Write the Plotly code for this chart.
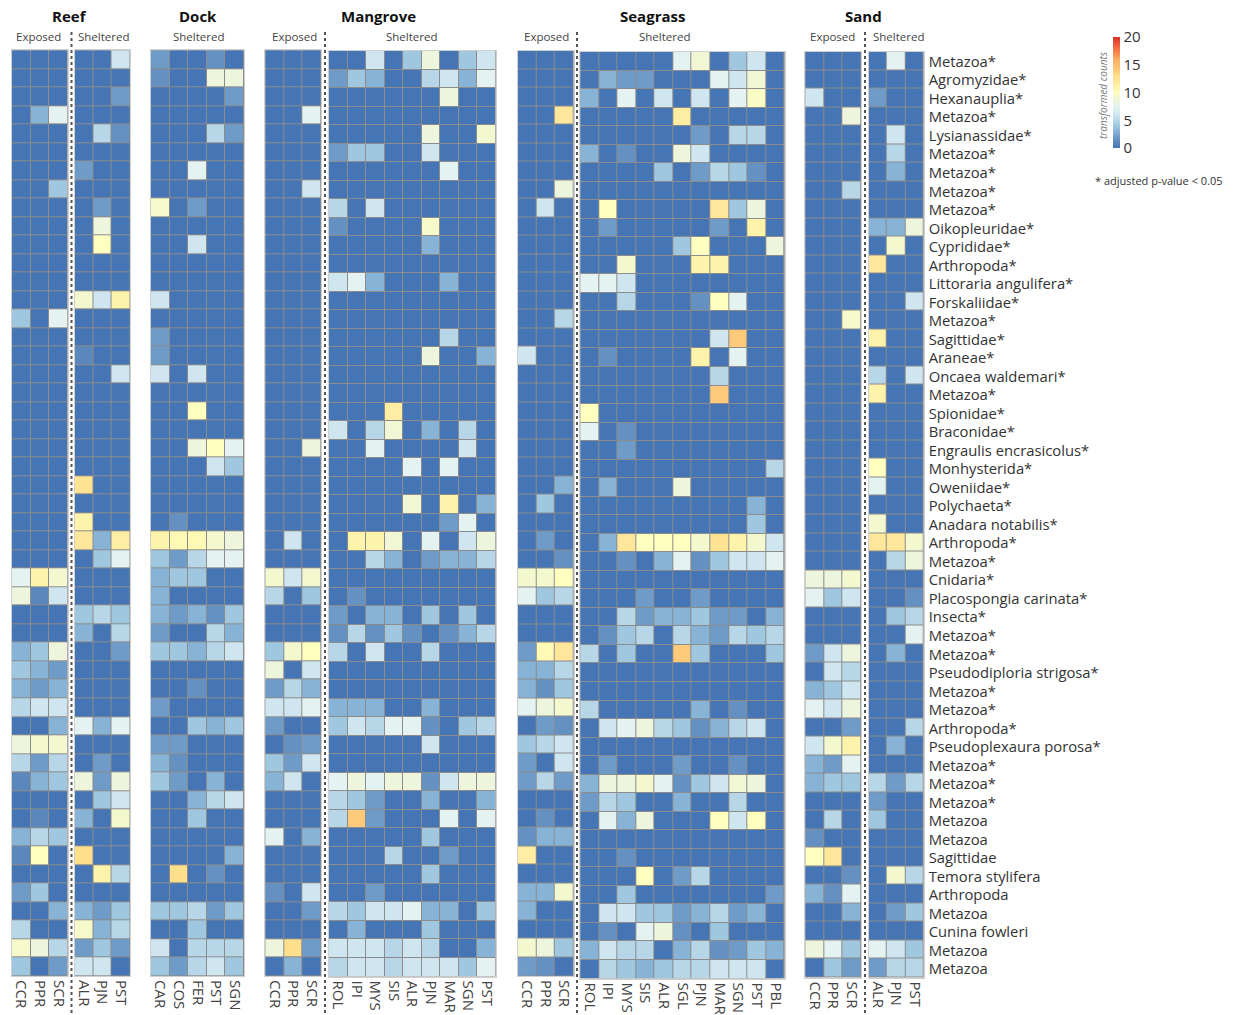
import plotly.graph_objects as go

taxa = ["Metazoa*","Agromyzidae*","Hexanauplia*","Metazoa*","Lysianassidae*","Metazoa*","Metazoa*","Metazoa*","Metazoa*","Oikopleuridae*",
"Cyprididae*","Arthropoda*","Littoraria angulifera*","Forskaliidae*","Metazoa*","Sagittidae*","Araneae*","Oncaea waldemari*","Metazoa*","Spionidae*",
"Braconidae*","Engraulis encrasicolus*","Monhysterida*","Oweniidae*","Polychaeta*","Anadara notabilis*","Arthropoda*","Metazoa*","Cnidaria*","Placospongia carinata*",
"Insecta*","Metazoa*","Metazoa*","Pseudodiploria strigosa*","Metazoa*","Metazoa*","Arthropoda*","Pseudoplexaura porosa*","Metazoa*","Metazoa*",
"Metazoa*","Metazoa","Metazoa","Sagittidae","Temora stylifera","Arthropoda","Metazoa","Cunina fowleri","Metazoa","Metazoa"]

reef_exposed_sites = ["CCR","PPR","SCR"]
reef_exposed = [
[0,0,0],[0,0,0],[0,0,0],[0,3,7.5],[0,0,0],[0,0,0],[0,0,0],[0,0,4],[0,0,0],[0,0,0],
[0,0,0],[0,0,0],[0,0,0],[0,0,0],[4,0,7.5],[0,0,0],[0,0,0],[0,0,0],[0,0,0],[0,0,0],
[0,0,0],[0,0,0],[0,0,0],[0,0,0],[0,0,0],[0,0,0],[0,0,0],[0,0,0],[7.5,11,9.3],[8.5,1,6],
[0,0,0],[0,0,0],[3,4,8.5],[4,3,2],[3,2,3],[5,6,6],[0,0,3],[8.5,9.3,9.3],[5,2,5],[1,3,4],
[0,0,0],[0,1,0],[3,5,4],[1,10,0],[0,0,0],[2,4,0],[0,0,3],[5,0,0],[9.5,8.5,5],[4,0,2]]

reef_sheltered_sites = ["ALR","PJN","PST"]
reef_sheltered = [
[0,0,6],[0,0,0],[0,0,2],[0,0,0],[0,5,1.5],[0,0,0],[2,0,0],[0,0,0],[0,2,0],[0,8.5,0],
[0,10,0],[0,0,0],[0,0,0],[9.3,6,11],[0,0,0],[0,0,0],[1,0,0],[0,0,6],[0,0,0],[0,0,0],
[0,0,0],[0,0,0],[0,0,0],[12.5,0,0],[0,0,0],[11,0,0],[12,3,11.5],[0,4,7.5],[0,0,0],[0,0,0],
[4,5,4],[3,0,5],[0,0,2],[0,0,0],[0,0,0],[0,0,0],[7.5,3,7.5],[0,0,0],[0,2,0],[8.5,2,8.5],
[0,4,6],[3,0,9.3],[0,0,0],[13,0,0],[0,11,5],[0,0,0],[3,2,4],[9.5,3,5],[2,4,2],[6,6,0]]

dock_sites = ["CAR","COS","FER","PST","SGN"]
dock_sheltered = [
[2,0,0,1.5,0],[1.5,0,0,8.5,8.5],[0,0,0,0,2],[0,0,0,0,0],[0,0,0,5,2],[0,0,0,0,0],[0,0,7.5,0,0],[0,0,0,0,0],[9.5,0,2,0,0],[0,0,0,0,0],
[0,0,6,0,0],[0,0,0,0,0],[0,0,0,0,0],[6,0,0,0,0],[0,0,0,0,0],[2,0,0,0,0],[2,0,0,0,0],[6,0,6,0,0],[0,0,0,0,0],[0,0,10,0,0],
[0,0,0,0,0],[0,0,8.5,10,7.5],[0,0,0,6,4],[0,0,0,0,0],[0,0,0,0,0],[0,1.5,0,0,0],[11,10.5,10.5,9.3,8.5],[4,2,5,7.5,7.5],[3,4,4,0,0],[3,0,0,0,0],
[3,2,3,1.5,4],[2,0,0,5,3],[4,4,3,5,6],[0,0,0,0,0],[0,0,1.5,0,0],[2,0,0,0,0],[0,0,4,3,4],[2,2,0,0,0],[3,1.5,0,0,0],[4,2,0,3,0],
[0,0,3,5,6],[0,0,4,0,0],[0,0,0,0,0],[0,0,0,0,3],[0,13,0,1.5,0],[0,0,0,0,0],[4,4,5,2,4],[0,0,4,0,0],[6,0,5,5,5],[4,2,5,6,4]]

mangrove_exposed_sites = ["CCR","PPR","SCR"]
mangrove_exposed = [
[0,0,0],[0,0,0],[0,0,0],[0,0,7.5],[0,0,0],[0,0,0],[0,0,0],[0,0,6],[0,0,0],[0,0,0],
[0,0,0],[0,0,0],[0,0,0],[0,0,0],[0,0,0],[0,0,0],[0,0,0],[0,0,0],[0,0,0],[0,0,0],
[0,0,0],[0,0,8.5],[0,0,0],[0,0,0],[0,0,0],[0,0,0],[0,6,0],[0,0,0],[9.3,6,9.3],[5,0,4],
[0,0,0],[0,0,0],[4,9.3,10],[8.5,0,6],[2,5,3],[6,6,7.5],[2,0,0],[0,1.5,2],[4,2,6],[3,6,0],
[0,0,0],[0,0,0],[7.5,0,3],[0,0,0],[0,0,0],[1.5,0,6],[0,0,2],[0,0,0],[8.5,13,2],[0,3,0]]

mangrove_sites = ["ROL","IPI","MYS","SIS","ALR","PJN","MAR","SGN","PST"]
mangrove_sheltered = [
[0,0,6,0,4,8.5,0,4,6],[2,4,3,0,0,5,6,3,7.5],[0,0,0,0,0,0,8.5,0,0],[0,0,0,0,0,0,0,0,0],[0,0,0,0,0,8.5,0,0,9.3],
[2,4,4,0,0,6,0,0,0],[0,0,0,0,0,0,7.5,0,0],[0,0,0,0,0,0,0,0,0],[5,0,6,0,0,0,0,0,0],[1.5,0,0,0,0,9.5,0,0,0],
[0,0,0,0,0,3,0,0,0],[0,0,0,0,0,0,0,0,0],[6,7.5,3,0,0,0,3,0,0],[0,0,0,0,0,0,0,0,0],[0,0,0,0,0,0,0,0,0],
[0,0,0,0,0,0,5,0,0],[0,0,0,0,0,8.5,0,0,3],[0,0,0,0,0,0,0,0,0],[0,0,0,0,0,0,0,0,0],[0,0,0,11.5,0,0,0,0,0],
[6,0,5,9,0,3,0,5,0],[0,0,7.5,0,0,0,0,6,0],[0,0,0,0,7.5,0,7.5,0,0],[0,0,0,0,0,0,0,0,0],[0,0,0,0,9,0,11,0,3],
[0,0,0,0,0,0,2,7.5,0],[0,11,11,9,0,7.5,0,6,8.5],[0,0,5,3,0,2,3,3,5],[0,0,0,0,0,0,0,0,0],[0,1.5,0,0,0,0,0,0,0],
[2,0,3,3,0,4,0,4,0],[1.5,5,1.5,4,1.5,0,1.5,3,5],[5,0,6,0,0,5,0,0,0],[0,0,0,0,0,0,0,0,0],[0,0,0,0,0,0,0,0,0],
[3,3,3,0,0,3,0,0,0],[4,6,5,7.5,7.5,1.5,0,4,5],[0,0,0,0,0,6,0,0,0],[0,0,0,0,0,0,0,0,0],[7.5,8.5,7.5,8.5,8.5,1.5,6,8.5,8.5],
[5,4,2,0,0,3,0,0,3],[5,14,2,0,0,0,7.5,0,7.5],[0,0,0,0,0,4,0,0,0],[0,0,0,5,0,0,2,0,0],[0,0,0,0,0,4,0,0,0],
[0,0,2,0,0,0,0,0,0],[5,4,6,6,7.5,3,3,0,4],[0,3,0,0,0,4,0,0,0],[6,6,6,5,6,5,0,0,3],[5,6,6,5,6,6,6,4,7.5]]

seagrass_exposed_sites = ["CCR","PPR","SCR"]
seagrass_exposed = [
[0,0,0],[0,0,0],[0,0,0],[0,0,12],[0,0,0],[0,0,0],[0,0,0],[0,0,8.5],[0,6,0],[0,0,0],
[0,0,0],[0,0,0],[0,0,0],[0,0,0],[0,0,5],[0,0,0],[6,0,0],[0,0,0],[0,0,0],[0,0,0],
[0,0,0],[0,0,0],[0,0,0],[0,0,3],[0,4,0],[0,0,0],[0,2,0],[0,0,1.5],[9.3,9.3,10],[7.5,4,5],
[0,0,0],[0,0,0],[2,10.5,12],[3,3,5],[3,1.5,4],[7.5,8.5,9.3],[0,2,1.5],[4,5,6],[2,0,6],[2,5,2],
[0,0,0],[0,1.5,0],[1.5,3,3],[11.5,0,0],[0,0,0],[3,3,9.3],[3,0,0],[0,0,0],[9.3,8.5,4],[2,1.5,0]]

seagrass_sites = ["ROL","IPI","MYS","SIS","ALR","SGL","PJN","MAR","SGN","PST","PBL"]
seagrass_sheltered = [
[0,0,0,0,0,7.5,9,0,4,6,0],[0,3,2,2,0,0,0,7.5,6,9,0],[3,0,7.5,0,6,0,6,0,7.5,9.7,0],[0,0,0,0,0,11.5,0,0,0,0,0],[0,0,0,0,0,0,2,0,5,5,0],
[3,0,1.5,0,0,8.5,6,0,0,0,0],[0,0,0,0,4,0,2,5,4,1.5,0],[0,0,0,0,0,0,0,0,0,0,0],[0,10,0,0,0,0,0,12,4,8.5,0],[0,2,0,0,0,0,0,2,0,11,0],
[0,0,0,0,0,4,10,0,0,0,8.5],[0,0,9.3,0,0,0,11,11,0,0,0],[7.5,7.5,6,0,0,0,0,0,0,0,0],[0,0,5,0,0,0,1.5,10,7.5,0,0],[0,0,0,0,0,0,0,0,0,0,0],
[0,0,0,0,0,0,0,6,14,0,0],[0,1.5,0,0,0,0,11,0,7.5,0,0],[0,0,0,0,0,0,0,5,0,0,0],[0,0,0,0,0,0,0,14,0,0,0],[10,0,0,0,0,0,0,0,0,0,0],
[7.5,0,1.5,0,0,0,0,0,0,0,0],[0,0,2,0,0,0,0,0,0,0,0],[0,0,0,0,0,0,0,0,0,0,5],[0,3,0,0,0,8.5,0,0,0,0,0],[0,0,0,0,0,0,0,0,0,3,0],
[0,0,0,0,0,0,0,0,0,4,0],[0,3,12,10,10,10,9.3,12.5,11,9.3,6],[0,0,1.5,0,3,7.5,1.5,4,6,6,7.5],[0,0,0,0,0,0,0,0,0,0,0],[0,0,0,2,0,0,2,0,0,0,0],
[0,0,5,2,3,3,4,2,2,0,3],[0,1.5,4,5,0,5,3,2,5,4,5],[5,0,4,0,0,14,4,0,0,0,4],[0,0,0,0,0,0,0,0,0,0,0],[0,0,0,0,0,0,0,0,0,0,0],
[5,0,0,0,0,0,3,0,1.5,0,0],[0,6,7.5,8.5,5,4,1.5,3,5,6,0],[0,0,0,0,0,0,0,0,0,0,0],[0,2,0,0,0,2,0,0,1.5,0,0],[3,8.5,8.5,9.3,7.5,1.5,4,6,9,8.5,0],
[2,5,4,0,0,3,0,0,5,0,0],[0,7.5,3,8.5,0,0,0,10,6,10,0],[0,0,0,0,0,0,0,0,0,0,0],[0,0,1.5,0,0,0,0,0,0,0,0],[0,0,0,10,0,2,5,0,0,0,0],
[0,0,4,0,0,0,0,0,0,0,2],[0,6,6,4,4,2,3,5,2,3,0],[0,1.5,0,7.5,8.5,1.5,0,4,0,0,0],[3,6,5,5,0,3,5,1.5,2,4,3],[0,5,4,3,4,5,5,6,6,6,0]]

sand_exposed_sites = ["CCR","PPR","SCR"]
sand_exposed = [
[0,0,0],[0,0,0],[6,0,0],[0,0,8.5],[0,0,0],[0,0,0],[0,0,0],[0,0,5],[0,0,0],[0,0,0],
[0,0,0],[0,0,0],[0,0,0],[0,0,0],[0,0,9.5],[0,0,0],[0,0,0],[0,0,0],[0,0,0],[0,0,0],
[0,0,0],[0,0,0],[0,0,0],[0,0,0],[0,0,0],[0,0,0],[0,0,0],[0,0,0],[8.5,8.5,9.3],[7.5,4,6],
[0,0,0],[0,0,0],[2,6,8.5],[0,6,5],[3,4,6],[7.5,6,8.5],[0,0,2],[6,9.3,11],[3,2,7.5],[3,4,4],
[0,0,0],[0,5,0],[1.5,0,0],[10,12,0],[0,0,1.5],[3,1.5,7.5],[0,0,3],[0,0,0],[8.5,7.5,4],[0,4,2]]

sand_sheltered_sites = ["ALR","PJN","PST"]
sand_sheltered = [
[0,7.5,0],[0,0,0],[2,0,0],[0,0,0],[0,6,0],[0,5,0],[0,3,0],[0,0,0],[0,0,0],[3,3,8.5],
[0,9.3,0],[12,0,0],[0,0,0],[0,0,6],[0,0,0],[11,0,0],[0,0,0],[5,0,6],[11,0,0],[0,0,0],
[0,0,0],[0,0,0],[10,0,0],[7.5,0,0],[0,0,0],[9.3,0,0],[12,12,9.3],[0,5,8.5],[0,0,0],[0,0,1.5],
[0,4,5],[0,0,7.5],[0,3,0],[0,0,0],[0,0,0],[0,0,0],[0,0,5],[0,3,0],[0,0,0],[5,2,5],
[2,0,0],[4,0,0],[0,0,0],[0,0,0],[0,9.3,5],[0,0,0],[0,2,4],[0,0,0],[7.5,6,4],[2,5,5]]

habitats = ["Reef","Dock","Mangrove","Seagrass","Sand"]
exposure = ["Exposed","Sheltered"]
cbar_ticks = [0,5,10,15,20]

W, H = 1237, 1015
stops = [(0,"#4575b4"),(1,"#5a87bc"),(2,"#6f9bc8"),(3,"#87b3d6"),(4,"#9fc7df"),(5,"#b7d7e8"),(6,"#cfe6f0"),
         (7.5,"#e4f2f1"),(8.5,"#edf5dd"),(9.3,"#f3f8cf"),(10,"#ffffbf"),(11,"#fef3ab"),(12,"#fee69a"),
         (13,"#fedf8c"),(14,"#fdc97a"),(16,"#fdae61"),(18,"#f46d43"),(20,"#d73027")]
colorscale = [[v/20, c] for v, c in stops]

panels = [
 (reef_exposed, reef_exposed_sites, 12, 67.7, 50.3, 976),
 (reef_sheltered, reef_sheltered_sites, 74.5, 130, 50.3, 976),
 (dock_sheltered, dock_sites, 151, 244, 50.3, 976),
 (mangrove_exposed, mangrove_exposed_sites, 265.3, 321.3, 50.3, 976),
 (mangrove_sheltered, mangrove_sites, 329, 495.7, 51, 976.5),
 (seagrass_exposed, seagrass_exposed_sites, 517.7, 573.7, 50.5, 976),
 (seagrass_sheltered, seagrass_sites, 580.3, 784.7, 52, 978.5),
 (sand_exposed, sand_exposed_sites, 805.3, 861.3, 51.5, 977.5),
 (sand_sheltered, sand_sheltered_sites, 868.7, 923.7, 51.5, 977.5),
]

FONT = "Open Sans"
fig = go.Figure()
layout = {}
for i, (z, sites, x0, x1, y0, y1) in enumerate(panels, start=1):
    sfx = "" if i == 1 else str(i)
    fig.add_trace(go.Heatmap(
        z=z, x=sites, y=list(range(len(taxa))),
        xaxis="x"+sfx, yaxis="y"+sfx, zmin=0, zmax=20, colorscale=colorscale,
        xgap=1, ygap=1, showscale=(i == 1),
        customdata=[[t]*len(sites) for t in taxa],
        hovertemplate="%{customdata}<br>%{x}: %{z}<extra></extra>",
        colorbar=dict(lenmode="pixels", len=111, thicknessmode="pixels", thickness=7,
                      x=1113/W, xanchor="left", y=1-37/H, yanchor="top", outlinewidth=0,
                      xpad=0, ypad=0, tickvals=cbar_ticks, ticklen=0, tickfont=dict(family=FONT, size=15, color="#333"),
                      ticklabelposition="outside")))
    layout["xaxis"+sfx] = dict(domain=[x0/W, x1/W], anchor="y"+sfx, type="category", side="bottom",
        tickangle=90, tickfont=dict(family=FONT, size=15, color="#444"), ticks="", showgrid=False, zeroline=False,
        showline=True, mirror=True, linecolor="#cfcfcf", linewidth=1, fixedrange=True, ticklabelstandoff=0)
    layout["yaxis"+sfx] = dict(domain=[1-y1/H, 1-y0/H], anchor="x"+sfx, range=[49.5,-0.5], showgrid=False, zeroline=False,
        showline=True, mirror=True, linecolor="#cfcfcf", linewidth=1, fixedrange=True, ticks="", showticklabels=False)

layout["yaxis9"].update(side="right", showticklabels=True, tickmode="array", tickvals=[i+0.05 for i in range(len(taxa))],
                        ticktext=taxa, tickfont=dict(family=FONT, size=14.8, color="#333"), ticklabelstandoff=1, automargin=False)

def txt(s, x, y, size, color="#444", bold=False, italic=False, angle=0, anchor="center"):
    return dict(text=("<b>%s</b>" % s) if bold else (("<i>%s</i>" % s) if italic else s),
                x=x/W, y=1-y/H, xref="paper", yref="paper", showarrow=False, xanchor=anchor, yanchor="middle",
                textangle=angle, font=dict(family=FONT, size=size, color=color))

anns = [txt(h, x, 16.5, 15, "#111", bold=True) for h, x in zip(habitats, [69, 198, 378, 652, 863])]
anns += [txt(exposure[k], x, y, 11.5) for k, x, y in [(0,38,36.7),(1,103,36.7),(1,198,36.7),(0,294,36.7),(1,411,36.2),
                                                     (0,546,36.7),(1,664,36.7),(0,832,36.7),(1,898,36.7)]]
anns.append(txt("transformed counts", 1103, 95, 10, "#777", italic=True, angle=-90))
anns.append(txt("* adjusted p-value &lt; 0.05", 1093, 181, 11, "#333", anchor="left"))

shapes = [dict(type="line", xref="paper", yref="paper", x0=x/W, x1=x/W, y0=1-32/H, y1=1-1014/H,
               line=dict(color="#555", width=2, dash="dot")) for x in [71.5, 325, 577, 865]]

fig.update_layout(width=W, height=H, margin=dict(l=0, r=0, t=0, b=0, autoexpand=False),
                  paper_bgcolor="white", plot_bgcolor="#8c8c8c", annotations=anns, shapes=shapes,
                  showlegend=False, font=dict(family=FONT), **layout)

fig.write_html("out.html", config={"displayModeBar": False},
               post_script="document.body.style.margin='0';document.documentElement.style.overflow='hidden';")
